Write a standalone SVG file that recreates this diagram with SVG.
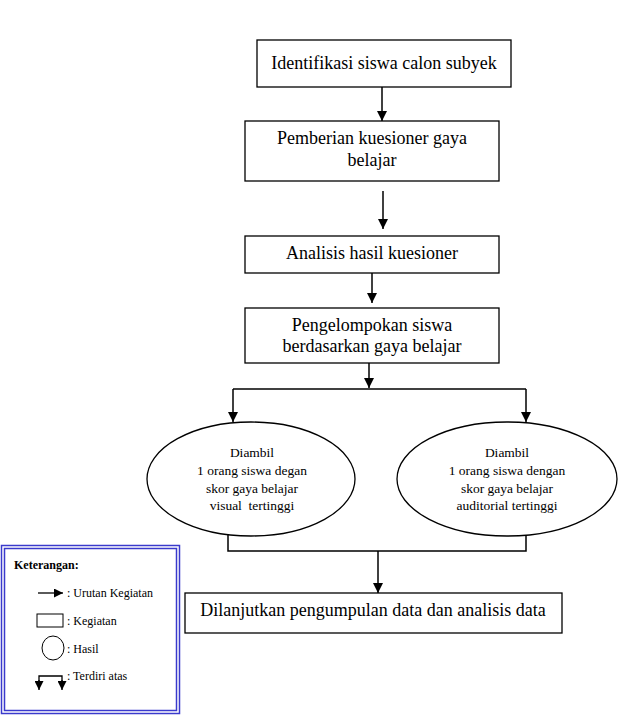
<svg xmlns="http://www.w3.org/2000/svg" width="620" height="721" viewBox="0 0 620 721">
<defs>
<marker id="ah" viewBox="0 0 10 10" refX="10" refY="5" markerWidth="10" markerHeight="10" markerUnits="userSpaceOnUse" orient="auto">
<path d="M0,0 L10,5 L0,10 z" fill="#000"/>
</marker>
<marker id="ahs" viewBox="0 0 10 10" refX="10" refY="5" markerWidth="9" markerHeight="9" markerUnits="userSpaceOnUse" orient="auto">
<path d="M0,0 L10,5 L0,10 z" fill="#000"/>
</marker>
</defs>
<style>
.box{fill:#fff;stroke:#000;stroke-width:1.3}
.t{font-family:"Liberation Serif","Times New Roman",serif;fill:#000;text-anchor:middle}
.big{font-size:18px}
.sm{font-size:13.5px}
.ln{fill:none;stroke:#000;stroke-width:1.5}
.leg{font-family:"Liberation Serif","Times New Roman",serif;font-size:12px;fill:#000}
</style>
<rect width="620" height="721" fill="#fff"/>

<g id="connectors">
<line class="ln" x1="382" y1="87" x2="382" y2="121" marker-end="url(#ah)"/>
<line class="ln" x1="383" y1="191" x2="383" y2="229" marker-end="url(#ah)"/>
<line class="ln" x1="372" y1="273" x2="372" y2="303" marker-end="url(#ah)"/>
<line class="ln" x1="369" y1="363" x2="369" y2="388" marker-end="url(#ah)"/>
<line class="ln" x1="233" y1="389" x2="526" y2="389"/>
<line class="ln" x1="233" y1="389" x2="233" y2="422" marker-end="url(#ah)"/>
<line class="ln" x1="526" y1="389" x2="526" y2="422" marker-end="url(#ah)"/>
<polyline class="ln" points="228,532 228,551 526,551 526,536"/>
<line class="ln" x1="378" y1="551" x2="378" y2="593" marker-end="url(#ah)"/>
</g>

<g id="n1">
<rect class="box" x="257" y="40" width="254" height="47"/>
<text class="t big" x="384" y="69">Identifikasi siswa calon subyek</text>
</g>
<g id="n2">
<rect class="box" x="245" y="121" width="254" height="60"/>
<text class="t big" x="372" y="144">Pemberian kuesioner gaya</text>
<text class="t big" x="372" y="166">belajar</text>
</g>
<g id="n3">
<rect class="box" x="245" y="236" width="254" height="37"/>
<text class="t big" x="372" y="259">Analisis hasil kuesioner</text>
</g>
<g id="n4">
<rect class="box" x="245" y="308" width="254" height="55"/>
<text class="t big" x="372" y="331">Pengelompokan siswa</text>
<text class="t big" x="372" y="352">berdasarkan gaya belajar</text>
</g>
<g id="n5">
<ellipse class="box" cx="251" cy="479" rx="104" ry="57"/>
<text class="t sm" x="252" y="457">Diambil</text>
<text class="t sm" x="252" y="475">1 orang siswa degan</text>
<text class="t sm" x="252" y="493">skor gaya belajar</text>
<text class="t sm" x="252" y="510" xml:space="preserve">visual  tertinggi</text>
</g>
<g id="n6">
<ellipse class="box" cx="507" cy="479" rx="110" ry="57"/>
<text class="t sm" x="507" y="457">Diambil</text>
<text class="t sm" x="507" y="475">1 orang siswa dengan</text>
<text class="t sm" x="507" y="493">skor gaya belajar</text>
<text class="t sm" x="507" y="510">auditorial tertinggi</text>
</g>
<g id="n7">
<rect class="box" x="185" y="593" width="377" height="40"/>
<text class="t big" x="373" y="616">Dilanjutkan pengumpulan data dan analisis data</text>
</g>

<g id="legend">
<rect x="1.5" y="545.5" width="178" height="168" fill="none" stroke="#3a3acc" stroke-width="1.5"/>
<rect x="4.5" y="548.5" width="172" height="162" fill="none" stroke="#3a3acc" stroke-width="1.5"/>
<text class="leg" x="14" y="569" font-weight="bold" font-size="13.5">Keterangan:</text>
<line x1="38" y1="593" x2="63" y2="593" stroke="#000" stroke-width="1.3" marker-end="url(#ahs)"/>
<text class="leg" x="67" y="597">: Urutan Kegiatan</text>
<rect x="37" y="614" width="26" height="13" fill="none" stroke="#000" stroke-width="1"/>
<text class="leg" x="67" y="625">: Kegiatan</text>
<ellipse cx="53" cy="648" rx="11" ry="12" fill="none" stroke="#000" stroke-width="1"/>
<text class="leg" x="67" y="653">: Hasil</text>
<polyline points="39,682 39,676 62,676 62,682" fill="none" stroke="#000" stroke-width="1.3"/>
<line x1="39" y1="680" x2="39" y2="690" stroke="#000" stroke-width="1.3" marker-end="url(#ahs)"/>
<line x1="62" y1="680" x2="62" y2="690" stroke="#000" stroke-width="1.3" marker-end="url(#ahs)"/>
<text class="leg" x="67" y="680">: Terdiri atas</text>
</g>
</svg>
